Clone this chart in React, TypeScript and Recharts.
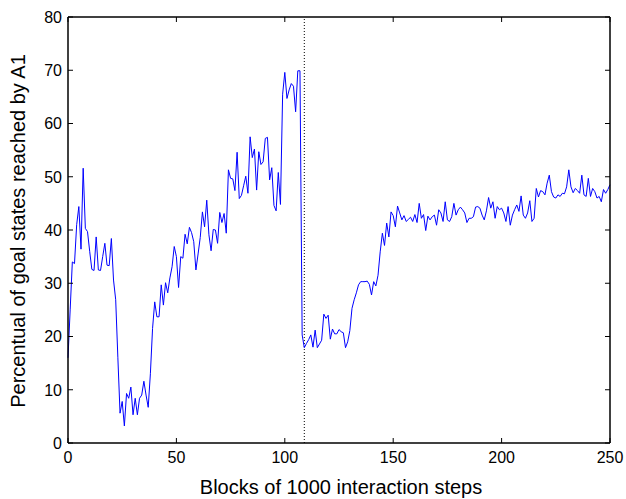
import * as React from "react";
import {
	LineChart,
	Line,
	XAxis,
	YAxis,
	ReferenceLine,
} from "recharts";

// ─── Data ──────────────────────────────────────────────────────────────────

// blocks 0..107, before the switch
const goalPctBefore = [
	16, 25, 34, 33.7, 41, 44.4, 36.4, 51.6, 40.3, 39.7,
	36, 32.6, 32.4, 38.7, 32.5, 32.4, 35, 37.5, 33.4, 33.3,
	38.4, 30.6, 26.9, 16, 5.6, 7.8, 3.2, 9.3, 8.4, 10.5,
	5.3, 8.4, 5.3, 8.4, 9.0, 11.6, 9, 6.7, 13, 21.5,
	26.5, 23.7, 23.7, 29.7, 25.9, 30.1, 28.2, 31, 33.1, 36.9,
	35.0, 29.2, 35.0, 34.7, 39.2, 37.4, 40.5, 39.5, 37.8, 32.5,
	35.5, 38.6, 43.4, 40.6, 45.6, 39.1, 36.1, 40.1, 40.0, 37.5,
	43.3, 41.4, 43.1, 39.4, 51.3, 49.7, 49.6, 47.4, 54.6, 45.9,
	46.5, 48.3, 50.1, 46.9, 57.5, 53.6, 55.2, 47.5, 54.7, 52.3,
	52.8, 57.2, 57.4, 49.4, 51.7, 44.6, 43.6, 50.8, 44.8, 65.5,
	69.6, 64.7, 66.3, 67.5, 67.0, 62.2, 69.9, 69.9,
];

// blocks 108..250, after the switch
const goalPctAfter = [
	20.3, 17.9, 18.7, 19.4, 20.3, 18.0, 21.2, 17.9, 18.6, 19.3,
	24.2, 23.4, 24.0, 19.5, 21.4, 20.5, 20.5, 21.3, 20.9, 20.7,
	17.9, 19.0, 21.1, 25.3, 26.9, 28.2, 29.7, 30.3, 30.3, 30.3,
	30.4, 29.8, 27.8, 30.3, 29.5, 31.5, 35.9, 39.4, 37.1, 41.3,
	38.7, 43.4, 42.7, 40.6, 44.5, 43.2, 41.9, 42.7, 41.6, 42.0,
	42.4, 41.6, 42.9, 41.4, 45.0, 42.2, 42.9, 39.9, 42.6, 41.9,
	42.5, 42.8, 40.9, 43.8, 43.2, 41.6, 45.3, 41.9, 41.6, 42.5,
	45.0, 42.8, 43.8, 44.3, 43.8, 43.2, 41.4, 42.2, 42.2, 42.5,
	44.3, 44.4, 44.1, 42.8, 41.9, 43.6, 46.1, 44.1, 45.3, 42.2,
	44.4, 43.8, 44.1, 43.2, 41.6, 44.4, 40.9, 42.8, 43.8, 44.7,
	43.5, 46.4, 42.8, 42.2, 43.2, 45.5, 41.6, 42.2, 47.8, 46.2,
	47.4, 47.2, 46.6, 48.8, 50.3, 47.2, 46.2, 46.0, 46.6, 46.3,
	46.9, 46.8, 48.1, 51.3, 48.1, 47.0, 47.8, 47.4, 46.9, 50.3,
	46.6, 46.3, 49.7, 46.3, 47.8, 47.2, 46.0, 46.3, 45.3, 47.6,
	46.9, 47.6, 48.5,
];

const switchBlock = 109;
const xTicks = [0, 50, 100, 150, 200, 250];
const yTicks = [0, 10, 20, 30, 40, 50, 60, 70, 80];

const chartData = [...goalPctBefore, ...goalPctAfter].map((pct, i) => ({
	block: i,
	pct,
}));

// ─── Styles ────────────────────────────────────────────────────────────────

const FONT = "Arial, 'Liberation Sans', Helvetica, sans-serif";
const TICK_LEN = 5;
const AXIS_W = 1.5;

// ─── Inward ticks (matlab style) ───────────────────────────────────────────

function LeftTick(props: any) {
	const { x, y, payload } = props;
	return (
		<g>
			<line x1={x} x2={x + TICK_LEN} y1={y} y2={y} stroke="#000" strokeWidth={1} />
			<text x={x - 6} y={y} dy="0.36em" textAnchor="end" fontSize={16} fontFamily={FONT} fill="#000">
				{payload.value}
			</text>
		</g>
	);
}

function BottomTick(props: any) {
	const { x, y, payload } = props;
	return (
		<g>
			<line x1={x} x2={x} y1={y} y2={y - TICK_LEN} stroke="#000" strokeWidth={1} />
			<text x={x} y={y + 20} textAnchor="middle" fontSize={16} fontFamily={FONT} fill="#000">
				{payload.value}
			</text>
		</g>
	);
}

function RightTick(props: any) {
	const { x, y } = props;
	return <line x1={x} x2={x - TICK_LEN} y1={y} y2={y} stroke="#000" strokeWidth={1} />;
}

function TopTick(props: any) {
	const { x, y } = props;
	return <line x1={x} x2={x} y1={y} y2={y + TICK_LEN} stroke="#000" strokeWidth={1} />;
}

export default function App() {
	return (
		<div style={{ position: "absolute", left: 0, top: 0, width: 626, height: 499, background: "#fff" }}>
			<LineChart
				width={626}
				height={499}
				data={chartData}
				margin={{ top: 16, right: 15, left: 0, bottom: 0 }}
			>
				<XAxis
					dataKey="block"
					type="number"
					domain={[0, 250]}
					ticks={xTicks}
					height={56}
					tickSize={0}
					tickMargin={0}
					tickLine={false}
					tick={<BottomTick />}
					axisLine={{ stroke: "#000", strokeWidth: AXIS_W }}
					interval={0}
				/>
				<XAxis
					xAxisId="top"
					orientation="top"
					dataKey="block"
					type="number"
					domain={[0, 250]}
					ticks={xTicks}
					height={1}
					tickSize={0}
					tickMargin={0}
					tickLine={false}
					tick={<TopTick />}
					axisLine={{ stroke: "#000", strokeWidth: AXIS_W }}
					interval={0}
				/>
				<YAxis
					type="number"
					domain={[0, 80]}
					ticks={yTicks}
					width={68}
					tickSize={0}
					tickMargin={0}
					tickLine={false}
					tick={<LeftTick />}
					axisLine={{ stroke: "#000", strokeWidth: AXIS_W }}
					interval={0}
				/>
				<YAxis
					yAxisId="right"
					orientation="right"
					type="number"
					domain={[0, 80]}
					ticks={yTicks}
					width={1}
					tickSize={0}
					tickMargin={0}
					tickLine={false}
					tick={<RightTick />}
					axisLine={{ stroke: "#000", strokeWidth: AXIS_W }}
					interval={0}
				/>
				<ReferenceLine
					x={switchBlock}
					stroke="#000"
					strokeWidth={1}
					strokeDasharray="1 2"
				/>
				<Line
					type="linear"
					dataKey="pct"
					stroke="#0000ff"
					strokeWidth={1}
					dot={false}
					activeDot={false}
					isAnimationActive={false}
				/>
				{/* invisible twin so the top and right frame axes get drawn */}
				<Line
					xAxisId="top"
					yAxisId="right"
					type="linear"
					dataKey="pct"
					stroke="none"
					dot={false}
					activeDot={false}
					isAnimationActive={false}
				/>
				<text x={341} y={494} textAnchor="middle" fontSize={20} fontFamily={FONT} fill="#000">
					Blocks of 1000 interaction steps
				</text>
				<text
					x={25}
					y={231}
					transform="rotate(-90 25 231)"
					textAnchor="middle"
					fontSize={20}
					fontFamily={FONT}
					fill="#000"
				>
					Percentual of goal states reached by A1
				</text>
			</LineChart>
		</div>
	);
}
